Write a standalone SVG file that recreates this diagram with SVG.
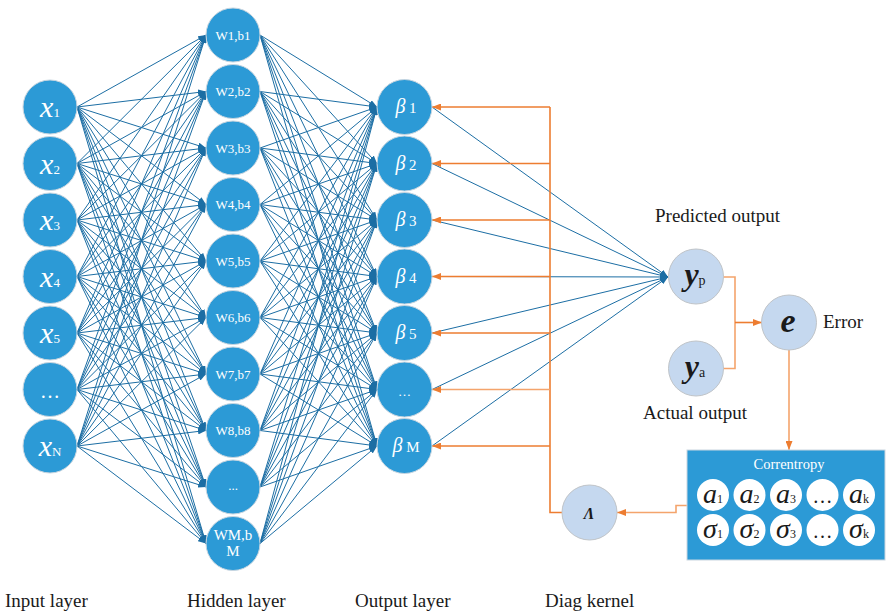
<svg xmlns="http://www.w3.org/2000/svg" width="886" height="614" viewBox="0 0 886 614" font-family="'Liberation Serif', 'DejaVu Serif', serif">
<style>
.l path{fill:none;stroke:#1C6EA4;stroke-width:1;marker-end:url(#ab)}
.o path{fill:none;stroke:#ED7D31;stroke-width:1.6}
.o .a{marker-end:url(#ao)}
.o .lt{stroke:#F4A46C}
.bn{fill:#2C9AD6;stroke:#c9d6e0;stroke-width:1}
.ln{fill:#C5D8EF;stroke:#c0c4c8;stroke-width:1}
.wc{fill:#ffffff}
.w{fill:#ffffff}
.k{fill:#1a1a1a}
.lab{font-size:19px;fill:#1a1a1a}
.xi{font-size:30px;font-style:italic}
.sb{font-size:13px}
.hd{font-size:13px;fill:#ffffff;text-anchor:middle}
.bt{font-size:20px;font-style:italic}
.bs{font-size:15px}
.ai{font-size:28px;font-style:italic}
.as{font-size:12px}
.mid{text-anchor:middle}
</style>
<defs>
<marker id="ab" viewBox="0 0 8 6" refX="8" refY="3" markerWidth="8" markerHeight="6" markerUnits="userSpaceOnUse" orient="auto"><path d="M0 0L8 3L0 6z" fill="#1C6EA4"/></marker>
<marker id="ao" viewBox="0 0 9 7" refX="9" refY="3.5" markerWidth="9" markerHeight="7" markerUnits="userSpaceOnUse" orient="auto"><path d="M0 0L9 3.5L0 7z" fill="#ED7D31"/></marker>
</defs>
<g id="connectors">
<g class="l">
<path d="M77 107L206 35"/><path d="M77 107L206 91.5"/><path d="M77 107L206 148"/><path d="M77 107L206 204.5"/><path d="M77 107L206 261"/><path d="M77 107L206 317.5"/><path d="M77 107L206 374"/><path d="M77 107L206 430.5"/><path d="M77 107L206 487"/><path d="M77 107L206 543.5"/>
<path d="M77 163.5L206 35"/><path d="M77 163.5L206 91.5"/><path d="M77 163.5L206 148"/><path d="M77 163.5L206 204.5"/><path d="M77 163.5L206 261"/><path d="M77 163.5L206 317.5"/><path d="M77 163.5L206 374"/><path d="M77 163.5L206 430.5"/><path d="M77 163.5L206 487"/><path d="M77 163.5L206 543.5"/>
<path d="M77 220L206 35"/><path d="M77 220L206 91.5"/><path d="M77 220L206 148"/><path d="M77 220L206 204.5"/><path d="M77 220L206 261"/><path d="M77 220L206 317.5"/><path d="M77 220L206 374"/><path d="M77 220L206 430.5"/><path d="M77 220L206 487"/><path d="M77 220L206 543.5"/>
<path d="M77 276.5L206 35"/><path d="M77 276.5L206 91.5"/><path d="M77 276.5L206 148"/><path d="M77 276.5L206 204.5"/><path d="M77 276.5L206 261"/><path d="M77 276.5L206 317.5"/><path d="M77 276.5L206 374"/><path d="M77 276.5L206 430.5"/><path d="M77 276.5L206 487"/><path d="M77 276.5L206 543.5"/>
<path d="M77 333L206 35"/><path d="M77 333L206 91.5"/><path d="M77 333L206 148"/><path d="M77 333L206 204.5"/><path d="M77 333L206 261"/><path d="M77 333L206 317.5"/><path d="M77 333L206 374"/><path d="M77 333L206 430.5"/><path d="M77 333L206 487"/><path d="M77 333L206 543.5"/>
<path d="M77 389.5L206 35"/><path d="M77 389.5L206 91.5"/><path d="M77 389.5L206 148"/><path d="M77 389.5L206 204.5"/><path d="M77 389.5L206 261"/><path d="M77 389.5L206 317.5"/><path d="M77 389.5L206 374"/><path d="M77 389.5L206 430.5"/><path d="M77 389.5L206 487"/><path d="M77 389.5L206 543.5"/>
<path d="M77 446L206 35"/><path d="M77 446L206 91.5"/><path d="M77 446L206 148"/><path d="M77 446L206 204.5"/><path d="M77 446L206 261"/><path d="M77 446L206 317.5"/><path d="M77 446L206 374"/><path d="M77 446L206 430.5"/><path d="M77 446L206 487"/><path d="M77 446L206 543.5"/>
<path d="M260 35L377 107"/><path d="M260 35L377 163.5"/><path d="M260 35L377 220"/><path d="M260 35L377 276.5"/><path d="M260 35L377 333"/><path d="M260 35L377 389.5"/><path d="M260 35L377 446"/>
<path d="M260 91.5L377 107"/><path d="M260 91.5L377 163.5"/><path d="M260 91.5L377 220"/><path d="M260 91.5L377 276.5"/><path d="M260 91.5L377 333"/><path d="M260 91.5L377 389.5"/><path d="M260 91.5L377 446"/>
<path d="M260 148L377 107"/><path d="M260 148L377 163.5"/><path d="M260 148L377 220"/><path d="M260 148L377 276.5"/><path d="M260 148L377 333"/><path d="M260 148L377 389.5"/><path d="M260 148L377 446"/>
<path d="M260 204.5L377 107"/><path d="M260 204.5L377 163.5"/><path d="M260 204.5L377 220"/><path d="M260 204.5L377 276.5"/><path d="M260 204.5L377 333"/><path d="M260 204.5L377 389.5"/><path d="M260 204.5L377 446"/>
<path d="M260 261L377 107"/><path d="M260 261L377 163.5"/><path d="M260 261L377 220"/><path d="M260 261L377 276.5"/><path d="M260 261L377 333"/><path d="M260 261L377 389.5"/><path d="M260 261L377 446"/>
<path d="M260 317.5L377 107"/><path d="M260 317.5L377 163.5"/><path d="M260 317.5L377 220"/><path d="M260 317.5L377 276.5"/><path d="M260 317.5L377 333"/><path d="M260 317.5L377 389.5"/><path d="M260 317.5L377 446"/>
<path d="M260 374L377 107"/><path d="M260 374L377 163.5"/><path d="M260 374L377 220"/><path d="M260 374L377 276.5"/><path d="M260 374L377 333"/><path d="M260 374L377 389.5"/><path d="M260 374L377 446"/>
<path d="M260 430.5L377 107"/><path d="M260 430.5L377 163.5"/><path d="M260 430.5L377 220"/><path d="M260 430.5L377 276.5"/><path d="M260 430.5L377 333"/><path d="M260 430.5L377 389.5"/><path d="M260 430.5L377 446"/>
<path d="M260 487L377 107"/><path d="M260 487L377 163.5"/><path d="M260 487L377 220"/><path d="M260 487L377 276.5"/><path d="M260 487L377 333"/><path d="M260 487L377 389.5"/><path d="M260 487L377 446"/>
<path d="M260 543.5L377 107"/><path d="M260 543.5L377 163.5"/><path d="M260 543.5L377 220"/><path d="M260 543.5L377 276.5"/><path d="M260 543.5L377 333"/><path d="M260 543.5L377 389.5"/><path d="M260 543.5L377 446"/>
<path d="M432 107L668 277"/><path d="M432 163.5L668 277"/><path d="M432 220L668 277"/><path d="M432 276.5L668 277"/><path d="M432 333L668 277"/><path d="M432 389.5L668 277"/><path d="M432 446L668 277"/>
</g>
<g class="o">
<path d="M562 512.5H550V107"/>
<path class="a" d="M550 107H432"/><path class="a" d="M550 163.5H432"/><path class="a" d="M550 220H432"/><path class="a" d="M550 276.5H432"/><path class="a" d="M550 333H432"/><path class="a lt" d="M550 389.5H432"/><path class="a" d="M550 446H432"/>
<path class="lt" d="M723 277H735V368.5H723"/>
<path class="a" d="M735 322.5H762"/>
<path class="a lt" d="M789 350V450"/>
<path class="a lt" d="M687 505.5H676V512.5H617"/>
</g>
</g>
<g id="in1"><circle class="bn" cx="50" cy="107" r="27"/><text class="w mid" x="50" y="117"><tspan class="xi">x</tspan><tspan class="sb">1</tspan></text></g>
<g id="in2"><circle class="bn" cx="50" cy="163.5" r="27"/><text class="w mid" x="50" y="173.5"><tspan class="xi">x</tspan><tspan class="sb">2</tspan></text></g>
<g id="in3"><circle class="bn" cx="50" cy="220" r="27"/><text class="w mid" x="50" y="230"><tspan class="xi">x</tspan><tspan class="sb">3</tspan></text></g>
<g id="in4"><circle class="bn" cx="50" cy="276.5" r="27"/><text class="w mid" x="50" y="286.5"><tspan class="xi">x</tspan><tspan class="sb">4</tspan></text></g>
<g id="in5"><circle class="bn" cx="50" cy="333" r="27"/><text class="w mid" x="50" y="343"><tspan class="xi">x</tspan><tspan class="sb">5</tspan></text></g>
<g id="in6"><circle class="bn" cx="50" cy="389.5" r="27"/><text class="w mid" x="50" y="398" style="font-size:20px">…</text></g>
<g id="inN"><circle class="bn" cx="50" cy="446" r="27"/><text class="w mid" x="50" y="456"><tspan class="xi">x</tspan><tspan class="sb">N</tspan></text></g>
<g id="h1"><circle class="bn" cx="233" cy="35" r="27"/><text class="hd" x="233" y="39.5">W1,b1</text></g>
<g id="h2"><circle class="bn" cx="233" cy="91.5" r="27"/><text class="hd" x="233" y="96">W2,b2</text></g>
<g id="h3"><circle class="bn" cx="233" cy="148" r="27"/><text class="hd" x="233" y="152.5">W3,b3</text></g>
<g id="h4"><circle class="bn" cx="233" cy="204.5" r="27"/><text class="hd" x="233" y="209">W4,b4</text></g>
<g id="h5"><circle class="bn" cx="233" cy="261" r="27"/><text class="hd" x="233" y="265.5">W5,b5</text></g>
<g id="h6"><circle class="bn" cx="233" cy="317.5" r="27"/><text class="hd" x="233" y="322">W6,b6</text></g>
<g id="h7"><circle class="bn" cx="233" cy="374" r="27"/><text class="hd" x="233" y="378.5">W7,b7</text></g>
<g id="h8"><circle class="bn" cx="233" cy="430.5" r="27"/><text class="hd" x="233" y="435">W8,b8</text></g>
<g id="h9"><circle class="bn" cx="233" cy="487" r="27"/><text class="hd" x="233" y="490">...</text></g>
<g id="hM"><circle class="bn" cx="233" cy="543.5" r="27"/><text class="hd" x="233" y="540" style="font-size:15px">WM,b</text><text class="hd" x="233" y="556" style="font-size:15px">M</text></g>
<g id="o1"><circle class="bn" cx="404.5" cy="107" r="27.5"/><text class="w mid" x="406" y="113"><tspan class="bt">β</tspan><tspan class="bs"> 1</tspan></text></g>
<g id="o2"><circle class="bn" cx="404.5" cy="163.5" r="27.5"/><text class="w mid" x="406" y="169.5"><tspan class="bt">β</tspan><tspan class="bs"> 2</tspan></text></g>
<g id="o3"><circle class="bn" cx="404.5" cy="220" r="27.5"/><text class="w mid" x="406" y="226"><tspan class="bt">β</tspan><tspan class="bs"> 3</tspan></text></g>
<g id="o4"><circle class="bn" cx="404.5" cy="276.5" r="27.5"/><text class="w mid" x="406" y="282.5"><tspan class="bt">β</tspan><tspan class="bs"> 4</tspan></text></g>
<g id="o5"><circle class="bn" cx="404.5" cy="333" r="27.5"/><text class="w mid" x="406" y="339"><tspan class="bt">β</tspan><tspan class="bs"> 5</tspan></text></g>
<g id="o6"><circle class="bn" cx="404.5" cy="389.5" r="27.5"/><text class="w mid" x="404.5" y="396" style="font-size:13px">…</text></g>
<g id="oM"><circle class="bn" cx="404.5" cy="446" r="27.5"/><text class="w mid" x="406" y="452"><tspan class="bt">β</tspan><tspan class="bs"> M</tspan></text></g>
<g id="yp"><circle class="ln" cx="696" cy="276.5" r="27.5"/><text class="k mid" x="695" y="285"><tspan style="font-size:32px;font-style:italic;font-weight:bold">y</tspan><tspan style="font-size:14px">p</tspan></text></g>
<g id="ya"><circle class="ln" cx="696" cy="368.5" r="27.5"/><text class="k mid" x="695" y="377"><tspan style="font-size:32px;font-style:italic;font-weight:bold">y</tspan><tspan style="font-size:14px">a</tspan></text></g>
<g id="err"><circle class="ln" cx="789" cy="322.5" r="27.5"/><text class="k mid" x="788" y="332" style="font-size:34px;font-style:italic;font-weight:bold">e</text></g>
<g id="lam"><circle class="ln" cx="589.5" cy="512.5" r="27.5"/><text class="k mid" x="589" y="519" style="font-size:16px;font-style:italic;font-weight:bold">Λ</text></g>
<g id="corr">
<rect x="687" y="450" width="198" height="110" fill="#2C9AD6" stroke="#c9d6e0" stroke-width="1"/>
<text class="w mid" x="789" y="469" style="font-size:14.5px">Correntropy</text>
<circle class="wc" cx="713" cy="495" r="16"/><circle class="wc" cx="749.5" cy="495" r="16"/><circle class="wc" cx="786" cy="495" r="16"/><circle class="wc" cx="822.5" cy="495" r="16"/><circle class="wc" cx="859" cy="495" r="16"/>
<circle class="wc" cx="713" cy="530" r="16"/><circle class="wc" cx="749.5" cy="530" r="16"/><circle class="wc" cx="786" cy="530" r="16"/><circle class="wc" cx="822.5" cy="530" r="16"/><circle class="wc" cx="859" cy="530" r="16"/>
<text class="k mid" x="713" y="503"><tspan class="ai">a</tspan><tspan class="as">1</tspan></text>
<text class="k mid" x="749.5" y="503"><tspan class="ai">a</tspan><tspan class="as">2</tspan></text>
<text class="k mid" x="786" y="503"><tspan class="ai">a</tspan><tspan class="as">3</tspan></text>
<text class="k mid" x="822.5" y="503" style="font-size:20px">…</text>
<text class="k mid" x="859" y="503"><tspan class="ai">a</tspan><tspan class="as">k</tspan></text>
<text class="k mid" x="713" y="538"><tspan class="ai">σ</tspan><tspan class="as">1</tspan></text>
<text class="k mid" x="749.5" y="538"><tspan class="ai">σ</tspan><tspan class="as">2</tspan></text>
<text class="k mid" x="786" y="538"><tspan class="ai">σ</tspan><tspan class="as">3</tspan></text>
<text class="k mid" x="822.5" y="538" style="font-size:20px">…</text>
<text class="k mid" x="859" y="538"><tspan class="ai">σ</tspan><tspan class="as">k</tspan></text>
</g>
<g id="labels">
<text class="lab" x="655" y="222">Predicted output</text>
<text class="lab" x="643" y="419">Actual output</text>
<text class="lab" x="823" y="328">Error</text>
<text class="lab" x="5" y="607">Input layer</text>
<text class="lab" x="187" y="607">Hidden layer</text>
<text class="lab" x="355" y="607">Output layer</text>
<text class="lab" x="545" y="607">Diag kernel</text>
</g>
</svg>
